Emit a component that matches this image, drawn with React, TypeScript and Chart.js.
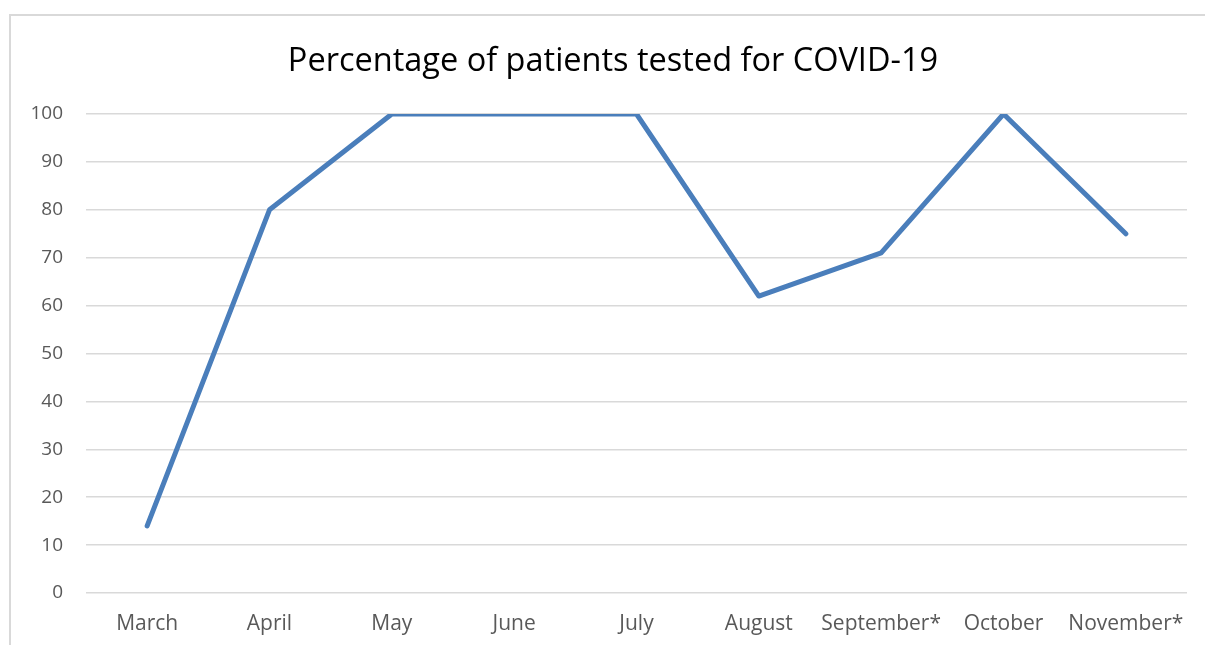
import React, { useEffect, useRef } from "react";
import { Chart, registerables } from "chart.js";

Chart.register(...registerables);

const months = ["March", "April", "May", "June", "July", "August", "September*", "October", "November*"];
const percentTested = [14, 80, 100, 100, 100, 62, 71, 100, 75];
const titleText = "Percentage of patients tested for COVID-19";

const frame = {
  id: "frame",
  afterLayout(chart: any) {
    // let the y tick labels use the space left of the axis box
    if (chart.scales.y) chart.scales.y.left = 0;
  },
  beforeDraw(chart: any) {
    const ctx = chart.ctx;
    ctx.save();
    ctx.strokeStyle = "#d9d9d9";
    ctx.lineWidth = 2;
    ctx.strokeRect(10, 15, 1400, 1000);
    ctx.restore();
  },
};

export default function App() {
  const ref = useRef<HTMLCanvasElement>(null);
  useEffect(() => {
    document.body.style.margin = "0";
    const chart = new Chart(ref.current as HTMLCanvasElement, {
      type: "line",
      data: {
        labels: months,
        datasets: [
          {
            data: percentTested,
            borderColor: "#4a7ebb",
            borderWidth: 5,
            pointRadius: 0,
            borderCapStyle: "round",
            borderJoinStyle: "round",
            tension: 0,
          },
        ],
      },
      options: {
        animation: false,
        responsive: false,
        maintainAspectRatio: false,
        layout: { padding: { left: 39, right: 18, top: 0, bottom: 0 } },
        plugins: {
          legend: { display: false },
          tooltip: { enabled: false },
          title: {
            display: true,
            text: titleText,
            color: "#000000",
            font: { family: "'Open Sans', sans-serif", size: 32.5, weight: "normal", lineHeight: 1.2 },
            padding: { top: 42, bottom: 33 },
          },
        },
        scales: {
          x: {
            offset: true,
            grid: { display: false, drawTicks: false },
            border: { display: false },
            ticks: {
              color: "#595959",
              font: { family: "'Open Sans', sans-serif", size: 21 },
              padding: 18,
              maxRotation: 0,
              autoSkip: false,
            },
            afterFit: (s: any) => {
              s.height = 52;
            },
          },
          y: {
            min: 0,
            max: 100,
            grid: { color: "#d9d9d9", lineWidth: 1.5, drawTicks: false },
            border: { display: false },
            ticks: {
              stepSize: 10,
              color: "#595959",
              font: { family: "'Open Sans', sans-serif", size: 19 },
              padding: 23,
            },
            afterFit: (s: any) => {
              s.width = 47;
            },
          },
        },
      },
      plugins: [frame],
    } as any);
    return () => chart.destroy();
  }, []);
  return (
    <div style={{ position: "fixed", left: 0, top: 0, width: 1205, height: 645, background: "#fff" }}>
      <canvas ref={ref} width={1205} height={645} style={{ width: 1205, height: 645 }} />
    </div>
  );
}
